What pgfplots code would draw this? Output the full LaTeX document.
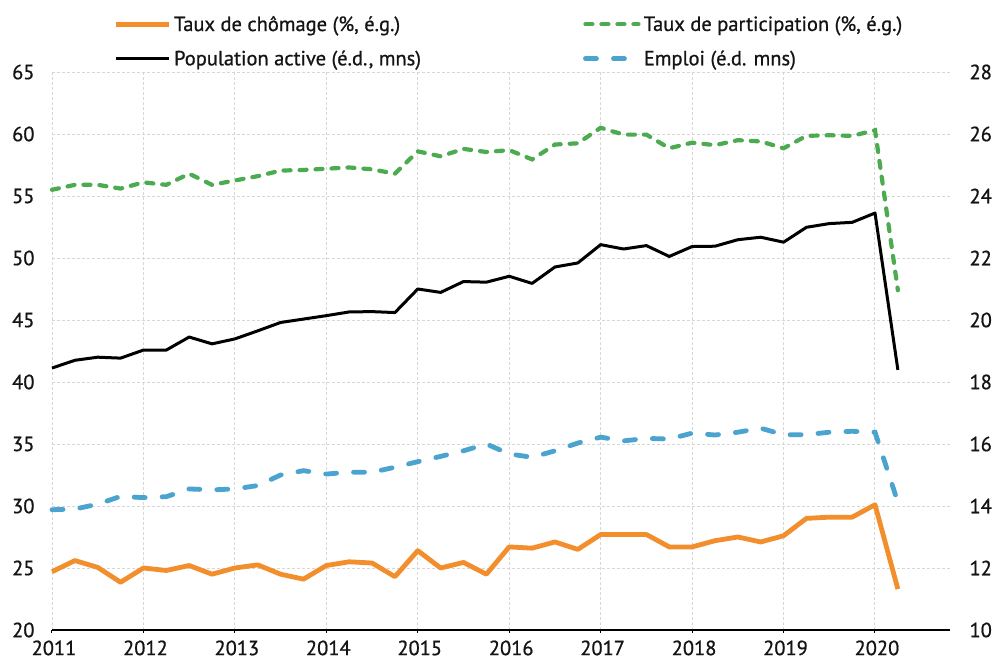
\documentclass[border=0pt]{standalone}
\usepackage{fontspec}
\setmainfont{PT Sans}[FakeBold=0.8]
\usepackage{pgfplots}
\usepackage{pgfplotstable}
\pgfplotsset{compat=1.18}
\definecolor{corange}{RGB}{242,142,43}
\definecolor{cgreen}{RGB}{76,170,80}
\definecolor{cblue}{RGB}{75,163,207}
\definecolor{cgrid}{RGB}{215,215,215}
\definecolor{ctext}{RGB}{20,20,20}

\pgfplotstableread{
x       chom   part   pop    emp
2011.00 24.70  55.50  18.45  13.88
2011.25 25.60  55.90  18.70  13.90
2011.50 25.05  55.90  18.80  14.06
2011.75 23.85  55.60  18.77  14.31
2012.00 25.00  56.10  19.03  14.27
2012.25 24.80  55.90  19.03  14.30
2012.50 25.20  56.80  19.45  14.55
2012.75 24.50  55.90  19.23  14.52
2013.00 25.00  56.25  19.39  14.55
2013.25 25.25  56.60  19.65  14.66
2013.50 24.50  57.05  19.92  15.00
2013.75 24.10  57.10  20.03  15.14
2014.00 25.20  57.20  20.14  15.03
2014.25 25.50  57.30  20.26  15.09
2014.50 25.40  57.15  20.27  15.09
2014.75 24.30  56.80  20.24  15.25
2015.00 26.40  58.60  21.00  15.43
2015.25 25.00  58.20  20.89  15.60
2015.50 25.45  58.80  21.24  15.78
2015.75 24.50  58.55  21.22  16.00
2016.00 26.70  58.70  21.41  15.68
2016.25 26.60  57.95  21.18  15.57
2016.50 27.10  59.15  21.71  15.78
2016.75 26.50  59.25  21.84  16.03
2017.00 27.70  60.50  22.43  16.22
2017.25 27.70  59.95  22.29  16.10
2017.50 27.70  59.95  22.40  16.18
2017.75 26.70  58.85  22.05  16.16
2018.00 26.70  59.30  22.37  16.35
2018.25 27.20  59.10  22.38  16.29
2018.50 27.50  59.50  22.59  16.38
2018.75 27.10  59.40  22.67  16.51
2019.00 27.60  58.85  22.51  16.30
2019.25 29.00  59.85  22.99  16.30
2019.50 29.10  59.90  23.11  16.38
2019.75 29.10  59.85  23.15  16.41
2020.00 30.10  60.30  23.45  16.38
2020.25 23.30  47.40  18.39  14.12
}\data

\begin{document}
\begin{tikzpicture}[font=\fontsize{20.5bp}{24bp}\selectfont, text=ctext]
\pgfplotsset{
  common/.style={
    scale only axis, width=898bp, height=558bp,
    xmin=2011, xmax=2020.82,
    /pgf/number format/assume math mode=true,
    /pgf/number format/1000 sep={},
    clip=false,
  },
}
\begin{axis}[common, name=main,
  ymin=20, ymax=65, ytick={20,25,...,65},
  xtick={2011,2012,...,2020},
  axis x line*=bottom, axis y line*=left,
  y axis line style={draw=none},
  x axis line style={black, line width=1.3bp},
  grid=major, grid style={cgrid, dash pattern=on 3bp off 2bp, line width=0.9bp},
  tick align=outside,
  ytick style={draw=none},
  xtick style={black, line width=1bp},
  major tick length=3bp,
  yticklabel style={xshift=-11bp},
  xticklabel style={yshift=-4bp, xshift=2bp},
]
\addplot[corange, line width=4.8bp, line join=round] table[x=x, y=chom] {\data};
\addplot[cgreen, line width=4.2bp, line cap=round, dash pattern=on 7bp off 9bp] table[x=x, y=part] {\data};
\end{axis}
\begin{axis}[common,
  ymin=10, ymax=28, ytick={10,12,...,28},
  axis y line*=right, axis x line=none,
  y axis line style={draw=none},
  ytick style={draw=none},
  yticklabel style={xshift=16bp},
  legend columns=2,
  legend cell align=left,
  legend image code/.code={\draw[#1] (0bp,0bp) -- (53bp,0bp);},
  legend style={draw=none, fill=none, inner sep=0pt,
    at={(0.068,1)}, anchor=south west, yshift=2bp,
    row sep=12bp,
    /tikz/column 2/.style={column sep=159bp},
    nodes={inner sep=3bp}},
]
\addlegendimage{corange, line width=4.8bp}
\addlegendentry{Taux de chômage (\%, é.g.)}
\addlegendimage{cgreen, line width=4.2bp, line cap=round, dash pattern=on 7bp off 9bp}
\addlegendentry{Taux de participation (\%, é.g.)}
\addplot[black, line width=3bp, line join=round] table[x=x, y=pop] {\data};
\addlegendentry{Population active (é.d., mns)}
\addplot[cblue, line width=4.8bp, line cap=round, dash pattern=on 11bp off 17bp] table[x=x, y=emp] {\data};
\addlegendentry{Emploi (é.d. mns)}
\end{axis}
\pgfresetboundingbox
\path ([xshift=-52bp,yshift=-36bp]main.south west) rectangle ([xshift=42bp,yshift=72bp]main.north east);
\end{tikzpicture}
\end{document}
